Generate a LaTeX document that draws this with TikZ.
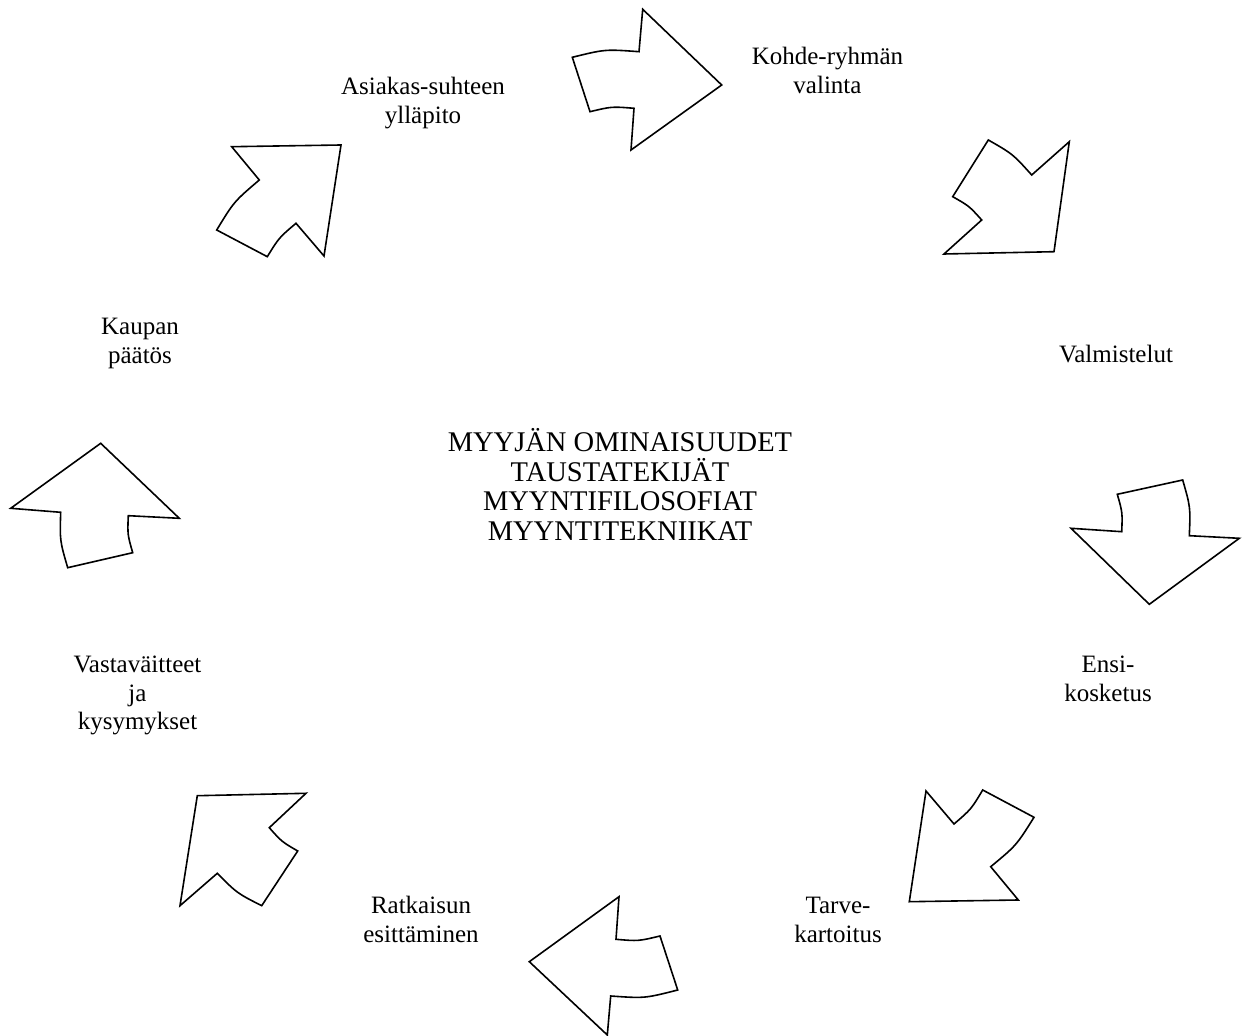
\documentclass[tikz,border=0pt]{standalone}
\usepackage{fontspec}
\setmainfont{Liberation Serif}
\begin{document}
\begin{tikzpicture}[x=0.5pt,y=-0.5pt,
  blockarrow/.style={draw=black,line width=0.8pt,line join=miter,fill=white},
  % multi-line labels are placed by the baseline of their last line
  stagelabel/.style={anchor=base,align=center,inner sep=0pt,
    font=\fontsize{12.5}{14.25}\selectfont},
  corelabel/.style={anchor=base,align=center,inner sep=0pt,
    font=\fontsize{14.25}{14.85}\selectfont}]
\useasboundingbox (0,0) rectangle (1242,1036);

% ---- block arrows around the cycle (shaft edges are slight outward arcs) ----
% top, pointing right
\draw[blockarrow] (572.3,57.3) .. controls (605.2,49.2) .. (639,51.7) -- (642.7,9.3)
  -- (721.7,85) -- (631,150) -- (634,108.3) .. controls (611.7,106.5) .. (590,111.7) -- cycle;
% upper right, pointing down-right
\draw[blockarrow] (988.3,140) .. controls (1012.8,154.0) .. (1031.7,175) -- (1069.3,141.7)
  -- (1054,251.7) -- (944,254) -- (981.7,220) .. controls (969.1,206.0) .. (952.7,196.7) -- cycle;
% right, pointing down
\draw[blockarrow] (1117.3,494.3) -- (1182.7,480) .. controls (1190.5,507.3) .. (1189.3,535.7)
  -- (1239.3,538.3) -- (1149.3,604.3) -- (1071,528.3) -- (1121.7,531.7)
  .. controls (1122.5,512.6) .. (1117.3,494.3) -- cycle;
% lower right, pointing down-left
\draw[blockarrow] (926,791) -- (954,824) .. controls (971.1,809.3) .. (982.7,790) -- (1034,817.3)
  .. controls (1016.3,845.5) .. (990.7,866.7) -- (1018.3,900) -- (909.3,901.7) -- cycle;
% bottom, pointing left
\draw[blockarrow] (619,896.7) -- (616,939.3) .. controls (638.3,941.2) .. (660,936) -- (677.7,990)
  .. controls (644.7,998.4) .. (610.7,996) -- (607.3,1035) -- (529.3,961.7) -- cycle;
% lower left, pointing up-left
\draw[blockarrow] (197.3,795.7) -- (306,793.3) -- (269.3,827.7) .. controls (281.6,841.6) .. (297.7,851)
  -- (261.7,905.7) .. controls (236.9,893.1) .. (217.3,873.3) -- (180,905.7) -- cycle;
% left, pointing up
\draw[blockarrow] (100.7,443.3) -- (179.3,518.3) -- (128.3,515.7) .. controls (127.5,534.55) .. (132.7,552.7)
  -- (67.7,567.7) .. controls (59.8,540.6) .. (60.7,512.3) -- (10.7,508.3) -- cycle;
% upper left, pointing up-right
\draw[blockarrow] (231.7,146.7) -- (341,145) -- (324,256) -- (296,223.3)
  .. controls (279.0,237.7) .. (267.3,256.7) -- (216.7,230) .. controls (234.0,201.6) .. (259.3,180) -- cycle;

% ---- stage labels ----
\node[stagelabel] (kohde) at (827.5,93.3)  {Kohde-ryhmän\\valinta};
\node[stagelabel] (valm)  at (1116,363)    {Valmistelut};
\node[stagelabel] (ensi)  at (1108,701.5)  {Ensi-\\kosketus};
\node[stagelabel] (tarve) at (838,942)     {Tarve-\\kartoitus};
\node[stagelabel] (ratk)  at (421,942)     {Ratkaisun\\esittäminen};
\node[stagelabel] (vast)  at (137.5,730)   {Vastaväitteet\\ja\\kysymykset};
\node[stagelabel] (kaup)  at (140,363.5)   {Kaupan\\päätös};
\node[stagelabel] (asia)  at (423,123.3)   {Asiakas-suhteen\\ylläpito};

% ---- core text ----
\node[corelabel] (core) at (620,540.7)
  {MYYJÄN OMINAISUUDET\\TAUSTATEKIJÄT\\MYYNTIFILOSOFIAT\\MYYNTITEKNIIKAT};
\end{tikzpicture}
\end{document}
